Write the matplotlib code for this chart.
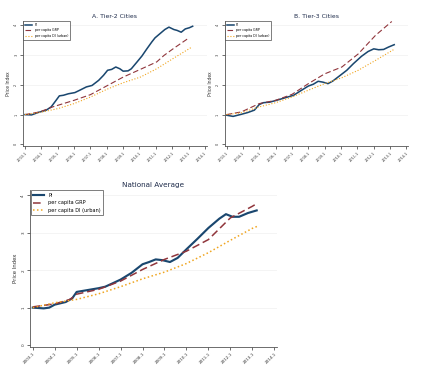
import numpy as np
import matplotlib
matplotlib.use('Agg')
import matplotlib.pyplot as plt

# x tick labels (year-quarter)
tick_years = list(range(2003, 2015))
tick_labels = ['%d-1' % y for y in tick_years]

# A. Tier-2 cities
t2_pi_t = [2003.0, 2003.4, 2003.8, 2004.3, 2004.6, 2004.9, 2005.1, 2005.35, 2005.65, 2006.05,
           2006.35, 2006.75, 2007.1, 2007.5, 2007.8, 2008.05, 2008.3, 2008.55, 2008.8, 2009.0,
           2009.3, 2009.5, 2009.85, 2010.15, 2010.45, 2010.75, 2010.95, 2011.25, 2011.55, 2011.8,
           2012.1, 2012.3, 2012.55, 2012.8, 2013.05, 2013.25]
t2_pi = [1.0, 0.99, 1.07, 1.15, 1.26, 1.48, 1.63, 1.65, 1.70, 1.74,
         1.82, 1.93, 1.98, 2.15, 2.32, 2.49, 2.52, 2.60, 2.54, 2.46,
         2.47, 2.54, 2.77, 2.97, 3.21, 3.44, 3.58, 3.72, 3.86, 3.94,
         3.86, 3.83, 3.77, 3.88, 3.92, 3.97]
t2_grp_t = [2003.0, 2003.9, 2004.7, 2006.0, 2007.0, 2008.05, 2009.0, 2010.05, 2011.05, 2011.5, 2012.1, 2013.0]
t2_grp = [1.0, 1.09, 1.26, 1.48, 1.67, 1.98, 2.26, 2.52, 2.77, 2.99, 3.23, 3.57]
t2_di_t = [2003.0, 2003.9, 2005.0, 2006.0, 2007.0, 2008.0, 2009.0, 2010.05, 2011.05, 2012.1, 2013.2]
t2_di = [1.0, 1.07, 1.20, 1.37, 1.59, 1.85, 2.07, 2.26, 2.54, 2.90, 3.27]

# B. Tier-3 cities
t3_pi_t = [2003.0, 2003.4, 2003.9, 2004.3, 2004.7, 2005.0, 2005.25, 2005.65, 2006.05, 2006.55,
           2007.1, 2007.5, 2008.0, 2008.3, 2008.6, 2008.9, 2009.2, 2009.5, 2009.95, 2010.35,
           2010.75, 2011.25, 2011.65, 2012.0, 2012.3, 2012.6, 2012.9, 2013.25]
t3_pi = [0.98, 0.94, 1.01, 1.07, 1.15, 1.34, 1.40, 1.42, 1.48, 1.56,
         1.65, 1.79, 1.96, 2.02, 2.12, 2.09, 2.04, 2.13, 2.32, 2.49,
         2.71, 2.96, 3.12, 3.21, 3.18, 3.19, 3.27, 3.35]
t3_grp_t = [2003.0, 2003.9, 2005.0, 2006.0, 2007.0, 2008.0, 2009.0, 2010.05, 2011.05, 2012.1, 2013.1]
t3_grp = [1.0, 1.09, 1.37, 1.48, 1.68, 2.04, 2.37, 2.60, 3.04, 3.66, 4.13]
t3_di_t = [2003.0, 2003.9, 2005.0, 2006.0, 2007.0, 2008.0, 2009.0, 2010.05, 2011.05, 2012.1, 2013.2]
t3_di = [1.0, 1.06, 1.26, 1.40, 1.59, 1.82, 2.04, 2.24, 2.49, 2.82, 3.18]

# National average
na_pi_t = [2003.0, 2003.5, 2003.75, 2004.0, 2004.5, 2004.8, 2005.0, 2005.5, 2006.0, 2006.3,
           2006.6, 2007.0, 2007.5, 2008.0, 2008.3, 2008.6, 2008.9, 2009.25, 2009.6, 2010.0,
           2010.5, 2011.0, 2011.5, 2011.8, 2012.1, 2012.4, 2012.8, 2013.2]
na_pi = [1.0, 0.98, 1.0, 1.08, 1.15, 1.25, 1.42, 1.47, 1.52, 1.56,
         1.64, 1.75, 1.93, 2.16, 2.22, 2.29, 2.27, 2.22, 2.33, 2.56,
         2.84, 3.13, 3.38, 3.50, 3.43, 3.43, 3.53, 3.60]
na_grp_t = [2003.0, 2004.0, 2004.7, 2005.0, 2006.0, 2007.0, 2008.0, 2009.0, 2010.0, 2011.0, 2012.0, 2013.0, 2013.2]
na_grp = [1.02, 1.10, 1.22, 1.36, 1.49, 1.71, 2.02, 2.29, 2.51, 2.82, 3.40, 3.71, 3.78]
na_di_t = [2003.0, 2004.0, 2005.0, 2006.0, 2007.0, 2008.0, 2009.0, 2010.0, 2011.0, 2012.0, 2013.0, 2013.25]
na_di = [1.0, 1.13, 1.22, 1.37, 1.56, 1.77, 1.95, 2.18, 2.47, 2.80, 3.12, 3.18]

navy = '#1a476f'
maroon = '#90353b'
orange = '#f0a520'


def draw_panel(ax, title, pi, grp, di, fs, tfs, lw, legfs):
    ax.plot(pi[0], pi[1], color=navy, lw=lw * 1.4, label='PI')
    ax.plot(grp[0], grp[1], color=maroon, lw=lw, dashes=(5, 2.5), label='per capita GRP')
    ax.plot(di[0], di[1], color=orange, lw=lw, dashes=(1, 1.6), label='per capita DI (urban)')
    ax.set_xlim(2002.88, 2014.12)
    ax.set_ylim(-0.05, 4.15)
    ax.set_xticks(tick_years)
    ax.set_xticklabels(tick_labels, rotation=45, ha='right', rotation_mode='anchor')
    ax.set_yticks([0, 1, 2, 3, 4])
    ax.set_yticklabels(['0', '1', '2', '3', '4'], rotation=90, va='center')
    ax.tick_params(labelsize=fs, length=2, width=0.5, pad=1.5, colors='#333333')
    for y in [1, 2, 3, 4]:
        ax.axhline(y, color='#f0f0f0', lw=0.5, zorder=0)
    for s in ['top', 'right']:
        ax.spines[s].set_visible(False)
    for s in ['left', 'bottom']:
        ax.spines[s].set_color('#555555')
        ax.spines[s].set_linewidth(0.6)
    ax.set_title(title, fontsize=tfs, color='#1e2b4a', pad=2)
    ax.set_ylabel('Price Index', fontsize=fs * 1.3, color='#333333', labelpad=2)
    leg = ax.legend(loc='upper left', fontsize=legfs, frameon=True, fancybox=False,
                    borderaxespad=0.1, handlelength=2.2, borderpad=0.5, labelspacing=0.5)
    leg.get_frame().set_edgecolor('#444444')
    leg.get_frame().set_linewidth(0.6)


fig = plt.figure(figsize=(4.43, 3.73), dpi=100)
ax1 = fig.add_axes([0.052, 0.609, 0.415, 0.335])
ax2 = fig.add_axes([0.507, 0.609, 0.415, 0.335])
ax3 = fig.add_axes([0.068, 0.070, 0.557, 0.421])

draw_panel(ax1, 'A. Tier-2 Cities', (t2_pi_t, t2_pi), (t2_grp_t, t2_grp), (t2_di_t, t2_di), 2.5, 4.4, 0.8, 2.3)
draw_panel(ax2, 'B. Tier-3 Cities', (t3_pi_t, t3_pi), (t3_grp_t, t3_grp), (t3_di_t, t3_di), 2.5, 4.4, 0.8, 2.3)
draw_panel(ax3, 'National Average', (na_pi_t, na_pi), (na_grp_t, na_grp), (na_di_t, na_di), 3.0, 5.2, 1.1, 3.6)

fig.savefig('out.png', dpi=100, facecolor='white')
